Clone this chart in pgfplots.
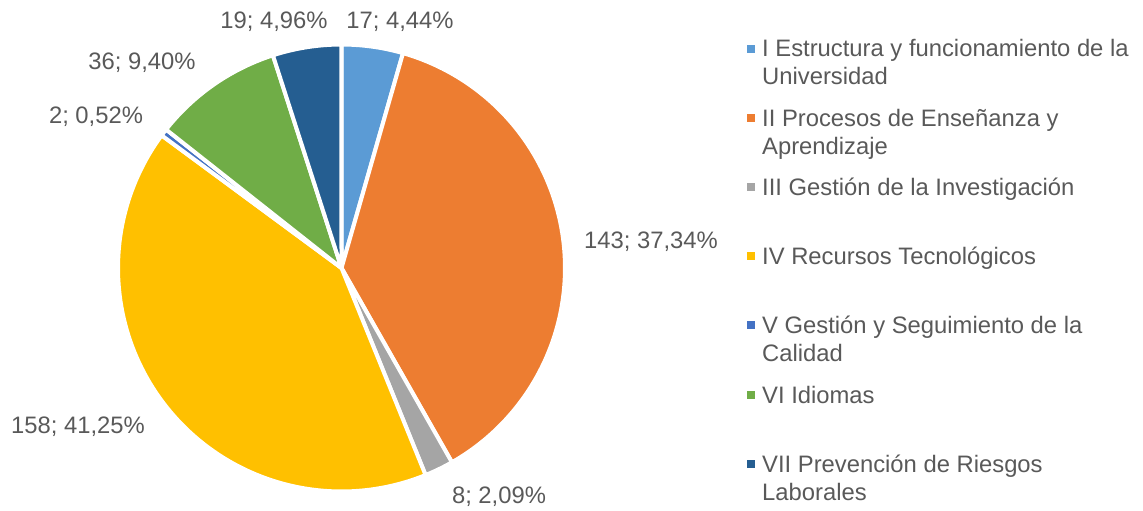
\documentclass[border=0pt]{standalone}
\usepackage{pgfplots}
\pgfplotsset{compat=1.18}
\usepackage{fontspec}
\setmainfont{Liberation Sans}
\definecolor{cA}{HTML}{5B9BD5}
\definecolor{cB}{HTML}{ED7D31}
\definecolor{cC}{HTML}{A5A5A5}
\definecolor{cD}{HTML}{FFC000}
\definecolor{cE}{HTML}{4472C4}
\definecolor{cF}{HTML}{70AD47}
\definecolor{cG}{HTML}{255E91}
\definecolor{txt}{HTML}{595959}
\newcommand\lf{\fontsize{23.8bp}{28bp}\selectfont}
\tikzset{lbl/.style={font=\lf, text=txt, inner sep=0pt}}
\begin{document}
\begin{tikzpicture}
% data values
\def\vA{17}\def\vB{143}\def\vC{8}\def\vD{158}\def\vE{2}\def\vF{36}\def\vG{19}
\pgfmathsetmacro{\tot}{\vA+\vB+\vC+\vD+\vE+\vF+\vG}
\pgfmathsetmacro{\bA}{\vA/\tot*360}
\pgfmathsetmacro{\bB}{\bA+\vB/\tot*360}
\pgfmathsetmacro{\bC}{\bB+\vC/\tot*360}
\pgfmathsetmacro{\bD}{\bC+\vD/\tot*360}
\pgfmathsetmacro{\bE}{\bD+\vE/\tot*360}
\pgfmathsetmacro{\bF}{\bE+\vF/\tot*360}
\pgfmathsetmacro{\bG}{\bF+\vG/\tot*360}
\def\cx{341.5}\def\cy{268}\def\r{223.5}
\begin{axis}[
  width=1143bp, height=511bp, scale only axis,
  xmin=0, xmax=1143, ymin=0, ymax=511, y dir=reverse,
  hide axis, clip=false,
]
\addplot[draw=none, forget plot] coordinates {(0,0) (1143,511)};
\addplot[fill=cA, draw=white, line width=4bp, line join=round, domain=0:\bA, samples=20] ({\cx+\r*sin(x)},{\cy-\r*cos(x)}) -- (axis cs:\cx,\cy) -- cycle;
\addplot[fill=cB, draw=white, line width=4bp, line join=round, domain=\bA:\bB, samples=100] ({\cx+\r*sin(x)},{\cy-\r*cos(x)}) -- (axis cs:\cx,\cy) -- cycle;
\addplot[fill=cC, draw=white, line width=4bp, line join=round, domain=\bB:\bC, samples=10] ({\cx+\r*sin(x)},{\cy-\r*cos(x)}) -- (axis cs:\cx,\cy) -- cycle;
\addplot[fill=cD, draw=white, line width=4bp, line join=round, domain=\bC:\bD, samples=100] ({\cx+\r*sin(x)},{\cy-\r*cos(x)}) -- (axis cs:\cx,\cy) -- cycle;
\addplot[fill=cE, draw=white, line width=4bp, line join=round, domain=\bD:\bE, samples=5] ({\cx+\r*sin(x)},{\cy-\r*cos(x)}) -- (axis cs:\cx,\cy) -- cycle;
\addplot[fill=cF, draw=white, line width=4bp, line join=round, domain=\bE:\bF, samples=30] ({\cx+\r*sin(x)},{\cy-\r*cos(x)}) -- (axis cs:\cx,\cy) -- cycle;
\addplot[fill=cG, draw=white, line width=4bp, line join=round, domain=\bF:\bG, samples=20] ({\cx+\r*sin(x)},{\cy-\r*cos(x)}) -- (axis cs:\cx,\cy) -- cycle;
% data labels
\node[lbl] at (axis cs:400,22) {17; 4,44\%};
\node[lbl] at (axis cs:651,242) {143; 37,34\%};
\node[lbl] at (axis cs:499,497) {8; 2,09\%};
\node[lbl] at (axis cs:78,427) {158; 41,25\%};
\node[lbl] at (axis cs:96,117) {2; 0,52\%};
\node[lbl] at (axis cs:142,63) {36; 9,40\%};
\node[lbl] at (axis cs:274,22) {19; 4,96\%};
% legend markers
\addplot[only marks, mark=square*, mark size=3.5bp, color=cA] coordinates {(751,49)};
\addplot[only marks, mark=square*, mark size=3.5bp, color=cB] coordinates {(751,118)};
\addplot[only marks, mark=square*, mark size=3.5bp, color=cC] coordinates {(751,187)};
\addplot[only marks, mark=square*, mark size=3.5bp, color=cD] coordinates {(751,256)};
\addplot[only marks, mark=square*, mark size=3.5bp, color=cE] coordinates {(751,325)};
\addplot[only marks, mark=square*, mark size=3.5bp, color=cF] coordinates {(751,395)};
\addplot[only marks, mark=square*, mark size=3.5bp, color=cG] coordinates {(751,464)};
% legend texts
\node[lbl, anchor=base west] at (axis cs:762,57) {I Estructura y funcionamiento de la};
\node[lbl, anchor=base west] at (axis cs:762,85) {Universidad};
\node[lbl, anchor=base west] at (axis cs:762,126) {II Procesos de Enseñanza y};
\node[lbl, anchor=base west] at (axis cs:762,154) {Aprendizaje};
\node[lbl, anchor=base west] at (axis cs:762,195) {III Gestión de la Investigación};
\node[lbl, anchor=base west] at (axis cs:762,264) {IV Recursos Tecnológicos};
\node[lbl, anchor=base west] at (axis cs:762,333) {V Gestión y Seguimiento de la};
\node[lbl, anchor=base west] at (axis cs:762,361) {Calidad};
\node[lbl, anchor=base west] at (axis cs:762,403) {VI Idiomas};
\node[lbl, anchor=base west] at (axis cs:762,472) {VII Prevención de Riesgos};
\node[lbl, anchor=base west] at (axis cs:762,500) {Laborales};
\end{axis}
\end{tikzpicture}
\end{document}
